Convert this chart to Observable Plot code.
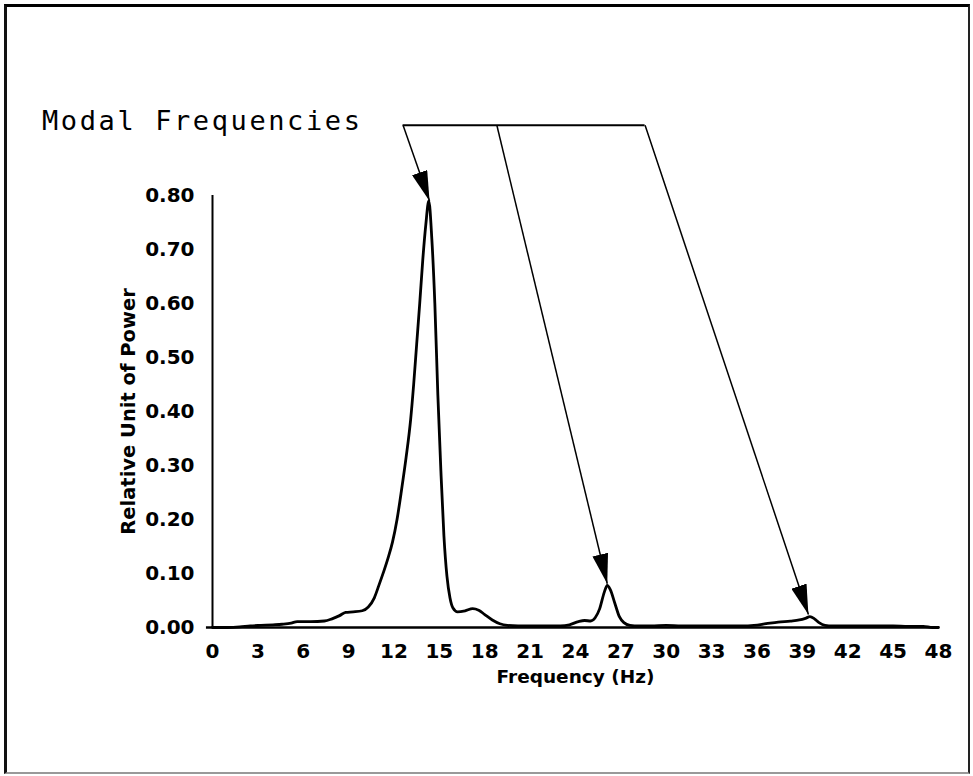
<!DOCTYPE html>
<html><head><meta charset="utf-8">
<script src="https://cdn.jsdelivr.net/npm/d3@7"></script>
<script src="https://cdn.jsdelivr.net/npm/@observablehq/plot@0.6"></script>
<style>
body{margin:0;background:#fff;}
#wrap{position:relative;width:973px;height:776px;overflow:hidden;}
#frame{position:absolute;left:4px;top:4px;width:966px;height:770px;border-top:3px solid #000;border-left:3px solid #111;border-right:2px solid #222;border-bottom:2px solid #999;box-sizing:border-box;pointer-events:none;}
#title{position:absolute;left:42px;top:107px;font:27px/27px "DejaVu Sans Mono",monospace;letter-spacing:2.6px;color:#000;white-space:nowrap;}
#chart{position:absolute;left:0;top:0;}
</style></head>
<body><div id="wrap"><div id="chart"></div><div id="frame"></div><div id="title">Modal Frequencies</div></div>
<script>
// Power spectrum
const freq = [
  0, 1, 1.8, 2.5, 3.2, 4, 4.6, 5.2, 5.6, 6.5,
  7.4, 7.9, 8.4, 8.8, 9.3, 9.9, 10.3, 10.7, 11.0, 11.3,
  11.6, 11.9, 12.2, 12.5, 12.8, 13.1, 13.3, 13.5, 13.7, 13.9,
  14.1, 14.3, 14.5, 14.7, 14.9, 15.1, 15.3, 15.5, 15.7, 15.9,
  16.2, 16.7, 17.2, 17.6, 18.0, 18.5, 19.0, 19.5, 20.2, 21,
  22, 23, 23.6, 24.2, 24.6, 25.0, 25.3, 25.6, 25.9, 26.1,
  26.3, 26.6, 26.9, 27.2, 27.6, 28.2, 29, 30, 31, 32,
  33, 34, 35, 35.8, 36.6, 37.4, 38.2, 38.8, 39.2, 39.5,
  39.8, 40.1, 40.5, 41, 42, 43, 44, 45, 46, 47,
  47.6, 48
];
const power = [
  0, 0, 0.001, 0.003, 0.004, 0.005, 0.006, 0.008, 0.011, 0.011,
  0.012, 0.016, 0.022, 0.028, 0.029, 0.031, 0.038, 0.055, 0.078, 0.102,
  0.128, 0.158, 0.2, 0.255, 0.315, 0.385, 0.45, 0.525, 0.60, 0.68,
  0.745, 0.79, 0.72, 0.60, 0.43, 0.29, 0.17, 0.095, 0.055, 0.036,
  0.029, 0.031, 0.035, 0.032, 0.024, 0.014, 0.007, 0.004, 0.003, 0.003,
  0.003, 0.003, 0.005, 0.011, 0.013, 0.012, 0.018, 0.035, 0.065, 0.078,
  0.07, 0.045, 0.02, 0.009, 0.004, 0.003, 0.003, 0.004, 0.003, 0.003,
  0.003, 0.003, 0.003, 0.004, 0.007, 0.010, 0.012, 0.014, 0.017, 0.020,
  0.016, 0.009, 0.004, 0.003, 0.003, 0.003, 0.003, 0.003, 0.002, 0.002,
  0, 0
];

// Modal peaks and annotation arrows
const modalFreq = [14.35, 26.1, 39.4];
const modalPower = [0.79, 0.081, 0.024];
const arrowFrom = [12.6, 18.8, 28.6];
const arrowLevel = 0.93;

// Tick labels
const xTicks = [0, 3, 6, 9, 12, 15, 18, 21, 24, 27, 30, 33, 36, 39, 42, 45, 48];
const yTicks = [0, 0.1, 0.2, 0.3, 0.4, 0.5, 0.6, 0.7, 0.8];

function arrowHead(color, context) {
  const doc = (context && context.document) || document;
  const ns = "http://www.w3.org/2000/svg";
  const m = doc.createElementNS(ns, "marker");
  m.setAttribute("viewBox", "-30 -8 30 16");
  m.setAttribute("markerWidth", "30");
  m.setAttribute("markerHeight", "16");
  m.setAttribute("refX", "0");
  m.setAttribute("refY", "0");
  m.setAttribute("orient", "auto");
  m.setAttribute("markerUnits", "userSpaceOnUse");
  const p = doc.createElementNS(ns, "path");
  p.setAttribute("d", "M0,0L-30,-8L-30,8Z");
  p.setAttribute("fill", "#000");
  p.setAttribute("stroke", "none");
  m.appendChild(p);
  return m;
}

const chart = Plot.plot({
  width: 973,
  height: 776,
  marginLeft: 212,
  marginRight: 35,
  marginTop: 195,
  marginBottom: 149,
  x: {domain: [0, 48]},
  y: {domain: [0, 0.8]},
  style: {fontFamily: "DejaVu Sans", fontSize: "20px", fontWeight: "bold", color: "#000", background: "transparent", overflow: "visible"},
  marks: [
    Plot.axisX({ticks: xTicks, tickSize: 0, tickPadding: 16, label: null, fontSize: 20}),
    Plot.axisY({ticks: yTicks, tickSize: 0, tickPadding: 18, tickFormat: d3.format(".2f"), label: null, fontSize: 20}),
    Plot.ruleX([0], {y1: 0, y2: 0.8, strokeWidth: 2}),
    Plot.ruleY([0], {x1: -0.4, x2: 48, strokeWidth: 2.4}),
    Plot.line(freq, {x: freq, y: power, curve: "monotone-x", strokeWidth: 2.8}),
    Plot.ruleY([arrowLevel], {x1: arrowFrom[0], x2: arrowFrom[2], strokeWidth: 2}),
    Plot.link(modalFreq, {
      x1: arrowFrom, y1: arrowFrom.map(() => arrowLevel),
      x2: modalFreq, y2: modalPower,
      strokeWidth: 1.5, markerEnd: arrowHead
    }),
    Plot.text(["Frequency (Hz)"], {frameAnchor: "bottom", dy: 50, text: d => d, fontSize: 18.5, lineAnchor: "middle", textAnchor: "middle"}),
    Plot.text(["Relative Unit of Power"], {frameAnchor: "left", dx: -84, rotate: -90, text: d => d, fontSize: 19.5, lineAnchor: "middle", textAnchor: "middle"})
  ]
});
document.getElementById("chart").appendChild(chart);
</script>
</body></html>
